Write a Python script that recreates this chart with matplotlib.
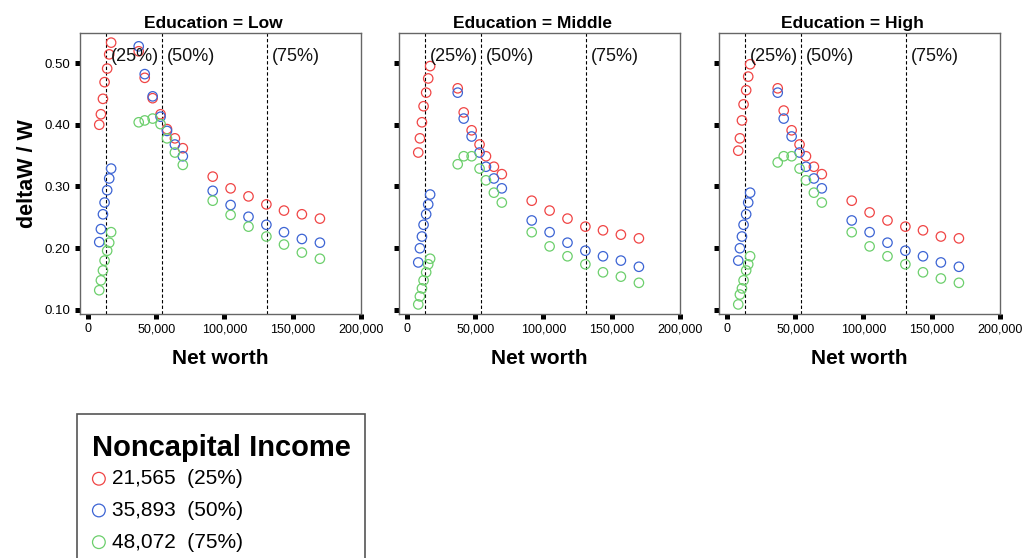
import matplotlib
matplotlib.use("Agg")
import matplotlib.pyplot as plt
import matplotlib.transforms as mtransforms
from matplotlib.offsetbox import DrawingArea, VPacker

plt.rcParams['font.family'] = ['Liberation Sans', 'DejaVu Sans']

# ---------------- data ----------------
net_worth = [8300, 9500, 11000, 12200, 14100, 15600, 17000,
             37200, 41600, 47400, 53200, 57900, 63700, 69500,
             91400, 104500, 117600, 130700, 143600, 156700, 169900]

panels = ["Education = Low", "Education = Middle", "Education = High"]

income_labels = ["21,565  (25%)", "35,893  (50%)", "48,072  (75%)"]

low_q25 = [0.400, 0.417, 0.442, 0.469, 0.491, 0.514, 0.533,
           0.519, 0.476, 0.443, 0.417, 0.393, 0.378, 0.362,
           0.316, 0.297, 0.284, 0.271, 0.261, 0.255, 0.248]
low_q50 = [0.210, 0.231, 0.255, 0.274, 0.294, 0.313, 0.329,
           0.527, 0.482, 0.446, 0.413, 0.390, 0.368, 0.349,
           0.293, 0.270, 0.251, 0.238, 0.226, 0.215, 0.209]
low_q75 = [0.132, 0.148, 0.164, 0.180, 0.196, 0.209, 0.226,
           0.404, 0.407, 0.410, 0.401, 0.378, 0.355, 0.335,
           0.277, 0.254, 0.235, 0.219, 0.206, 0.193, 0.183]

mid_q25 = [0.355, 0.378, 0.404, 0.430, 0.452, 0.475, 0.495,
           0.459, 0.420, 0.391, 0.368, 0.349, 0.332, 0.320,
           0.277, 0.261, 0.248, 0.235, 0.229, 0.222, 0.216]
mid_q50 = [0.177, 0.200, 0.219, 0.238, 0.255, 0.271, 0.287,
           0.452, 0.410, 0.381, 0.355, 0.332, 0.313, 0.297,
           0.245, 0.226, 0.209, 0.196, 0.187, 0.180, 0.170]
mid_q75 = [0.109, 0.122, 0.135, 0.148, 0.161, 0.174, 0.183,
           0.336, 0.349, 0.349, 0.329, 0.310, 0.290, 0.274,
           0.226, 0.203, 0.187, 0.174, 0.161, 0.154, 0.144]

high_q25 = [0.358, 0.378, 0.407, 0.433, 0.456, 0.478, 0.498,
            0.459, 0.423, 0.391, 0.368, 0.349, 0.332, 0.320,
            0.277, 0.258, 0.245, 0.235, 0.229, 0.219, 0.216]
high_q50 = [0.180, 0.200, 0.219, 0.238, 0.255, 0.274, 0.290,
            0.452, 0.410, 0.381, 0.355, 0.332, 0.313, 0.297,
            0.245, 0.226, 0.209, 0.196, 0.187, 0.177, 0.170]
high_q75 = [0.109, 0.125, 0.135, 0.148, 0.164, 0.174, 0.187,
            0.339, 0.349, 0.349, 0.329, 0.310, 0.290, 0.274,
            0.226, 0.203, 0.187, 0.174, 0.161, 0.151, 0.144]

series = [[low_q25, low_q50, low_q75],
          [mid_q25, mid_q50, mid_q75],
          [high_q25, high_q50, high_q75]]

percentile_lines = [13400, 54200, 131200]
percentile_labels = ["(25%)", "(50%)", "(75%)"]

x_ticks = [0, 50000, 100000, 150000, 200000]
y_ticks = [0.10, 0.20, 0.30, 0.40, 0.50]

colors = ["#f04545", "#3c64d4", "#6ccf6c"]

# ---------------- figure ----------------
W, H = 1022, 558
fig = plt.figure(figsize=(W / 100, H / 100), dpi=100)

lefts = [80, 399, 719]
ax_w, top, bottom = 281, 33, 314

handles = []
for i, (title, ser) in enumerate(zip(panels, series)):
    ax = fig.add_axes([lefts[i] / W, 1 - bottom / H, ax_w / W, (bottom - top) / H])
    for vals, col in zip(ser, colors):
        h = ax.scatter(net_worth, vals, s=46, facecolors='none', edgecolors=col,
                       linewidths=0.9, zorder=3)
        if i == 0:
            handles.append(h)
    trans = mtransforms.blended_transform_factory(ax.transData, ax.transAxes)
    for xv, lab in zip(percentile_lines, percentile_labels):
        ax.axvline(xv, color='black', lw=0.8, ls=(0, (3, 2)), zorder=2)
        ax.annotate(lab, xy=(xv, 0.916), xycoords=trans, xytext=(3.5, 0),
                    textcoords='offset points', ha='left', va='center',
                    fontsize=13, color='#111111', zorder=4)
    ax.set_xlim(-5800, 200000)
    ax.set_ylim(0.0935, 0.5486)
    ax.set_xticks(x_ticks)
    ax.set_xticklabels([f"{v:,}" for v in x_ticks], fontsize=9)
    ax.set_yticks(y_ticks)
    if i == 0:
        ax.set_yticklabels([f"{v:.2f}" for v in y_ticks], fontsize=9.5)
        ax.set_ylabel("deltaW / W", fontsize=15.5, fontweight='bold', labelpad=4.5)
    else:
        ax.set_yticklabels([])
    ax.tick_params(axis='both', direction='out', length=3.8, width=3.6,
                   color='black', pad=3)
    ax.set_xlabel("Net worth", fontsize=15, fontweight='bold', labelpad=10)
    ax.text(0.5 - 7 / ax_w, 1.0 + 2 / (bottom - top), title, transform=ax.transAxes,
            ha='center', va='bottom', fontsize=12.5, fontweight='bold')
    for sp in ax.spines.values():
        sp.set_color('#666666')
        sp.set_linewidth(1.0)

leg = fig.legend(handles, income_labels, loc='upper left',
                 bbox_to_anchor=(77 / W, 1 - 414 / H), borderaxespad=0,
                 title="Noncapital Income", alignment='left',
                 title_fontproperties={'weight': 'bold', 'size': 21},
                 fontsize=15, frameon=True, fancybox=False, edgecolor='#555555',
                 framealpha=1, borderpad=0.7, labelspacing=0.61,
                 handletextpad=0.28, handlelength=0.7, markerscale=1.35)
leg.get_frame().set_linewidth(1.2)
try:
    box = leg._legend_box
    title_box = box._children[0]
    box._children[0] = VPacker(pad=0, sep=0, align='left',
                               children=[DrawingArea(1, 3.6), title_box])
    box.sep = 5.5
except Exception:
    pass

fig.savefig("out.png", dpi=100)
